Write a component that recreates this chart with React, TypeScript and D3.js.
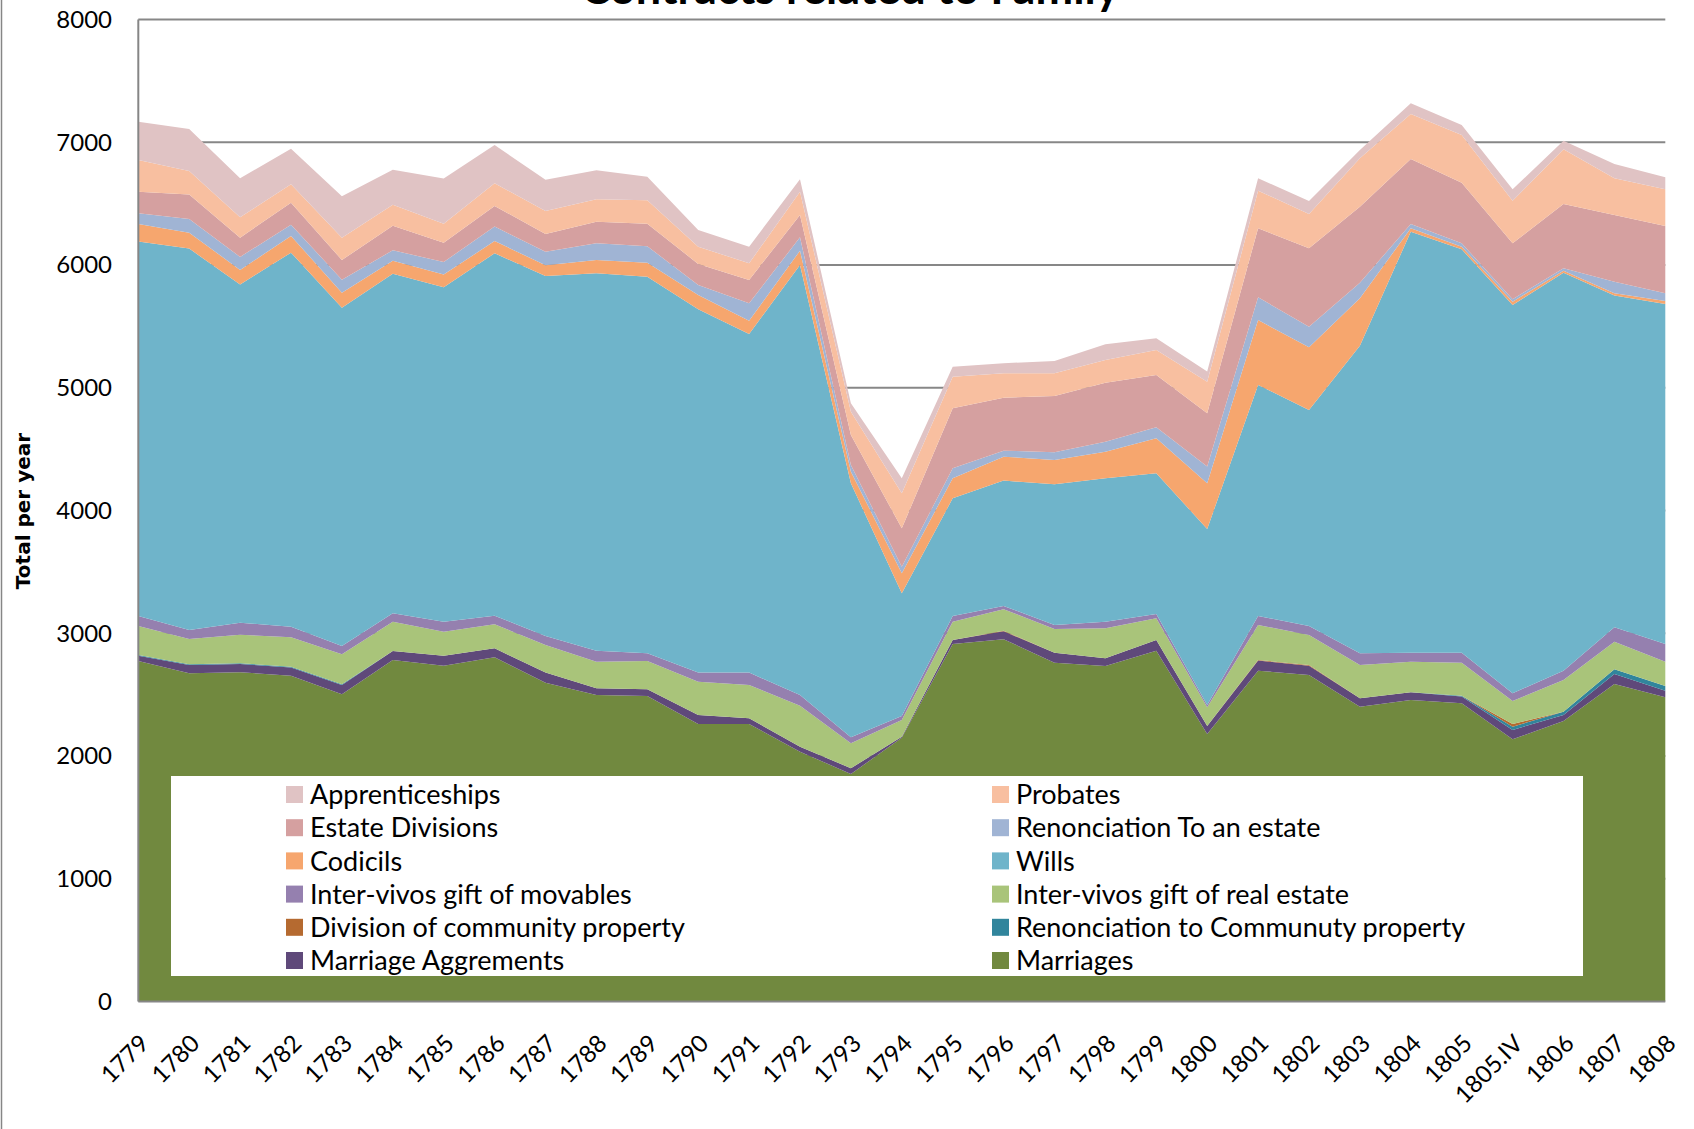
import * as d3 from "d3";

// categories (x axis)
const years = ["1779", "1780", "1781", "1782", "1783", "1784", "1785", "1786", "1787", "1788", "1789", "1790", "1791", "1792", "1793", "1794", "1795", "1796", "1797", "1798", "1799", "1800", "1801", "1802", "1803", "1804", "1805", "1805.IV", "1806", "1807", "1808"];

// series values, stacked bottom -> top
const marriages = [2774, 2673, 2682, 2654, 2502, 2782, 2735, 2804, 2597, 2497, 2489, 2261, 2261, 2035, 1853, 2149, 2912, 2951, 2760, 2733, 2858, 2179, 2695, 2660, 2401, 2456, 2429, 2136, 2285, 2586, 2478];
const marriageAgreements = [43, 68, 67, 67, 76, 73, 82, 73, 82, 54, 54, 73, 46, 41, 47, 8, 33, 64, 81, 63, 87, 65, 83, 75, 69, 63, 55, 76, 49, 82, 54];
const renonciationCommunity = [6, 6, 6, 6, 6, 0, 0, 0, 0, 0, 0, 0, 0, 0, 0, 0, 0, 0, 0, 0, 0, 0, 0, 0, 0, 0, 7, 27, 27, 38, 38];
const divisionCommunity = [0, 0, 0, 0, 0, 0, 0, 0, 0, 0, 0, 0, 0, 0, 0, 0, 0, 6, 0, 0, 0, 0, 4, 6, 0, 0, 0, 22, 0, 0, 0];
const giftRealEstate = [236, 206, 233, 240, 244, 239, 195, 195, 225, 217, 231, 271, 271, 334, 203, 136, 149, 174, 193, 244, 177, 153, 285, 245, 271, 249, 269, 187, 258, 225, 198];
const giftMovables = [81, 73, 98, 86, 68, 68, 82, 71, 73, 90, 62, 74, 101, 87, 49, 33, 46, 27, 33, 54, 35, 18, 73, 73, 95, 73, 81, 63, 76, 117, 144];
const wills = [3050, 3107, 2754, 3047, 2756, 2767, 2724, 2952, 2933, 3074, 3068, 2960, 2758, 3502, 2069, 999, 959, 1021, 1146, 1168, 1146, 1434, 1882, 1759, 2506, 3430, 3286, 3163, 3242, 2702, 2770];
const codicils = [144, 130, 119, 136, 122, 106, 103, 100, 87, 108, 114, 116, 109, 117, 95, 163, 163, 195, 198, 217, 285, 372, 529, 511, 386, 28, 22, 26, 16, 19, 24];
const renonciationEstate = [87, 111, 106, 92, 106, 84, 103, 117, 111, 136, 134, 82, 142, 109, 54, 54, 81, 49, 63, 81, 89, 136, 185, 168, 127, 35, 27, 20, 20, 94, 63];
const estateDivisions = [176, 199, 157, 179, 160, 201, 157, 168, 144, 176, 184, 171, 189, 182, 245, 312, 489, 432, 458, 481, 427, 435, 563, 639, 619, 529, 494, 456, 523, 544, 548];
const probates = [258, 192, 166, 150, 182, 171, 155, 185, 187, 183, 191, 141, 136, 190, 190, 286, 258, 198, 185, 185, 203, 257, 306, 279, 395, 367, 388, 347, 446, 299, 299];
const apprenticeships = [312, 343, 318, 290, 337, 285, 367, 312, 255, 236, 192, 136, 136, 101, 68, 122, 81, 82, 101, 128, 96, 82, 101, 106, 67, 87, 82, 93, 70, 116, 98];

const seriesNames = [
    "Marriages",
    "Marriage Aggrements",
    "Renonciation to Communuty property",
    "Division of community property",
    "Inter-vivos gift of real estate",
    "Inter-vivos gift of movables",
    "Wills",
    "Codicils",
    "Renonciation To an estate",
    "Estate Divisions",
    "Probates",
    "Apprenticeships",
];
const seriesValues = [marriages, marriageAgreements, renonciationCommunity, divisionCommunity, giftRealEstate, giftMovables, wills, codicils, renonciationEstate, estateDivisions, probates, apprenticeships];
const seriesColors = ["#71893f", "#5f497a", "#31859c", "#b56a30", "#a9c47a", "#9580af", "#6fb4ca", "#f6a66e", "#a0b4d4", "#d5a0a0", "#f8bfa0", "#e0c3c4"];

const yTicks = [0, 1000, 2000, 3000, 4000, 5000, 6000, 7000, 8000];

const title = "Contracts related to Family";
const yTitle = "Total per year";

export default function App() {
    const width = 1694;
    const height = 1129;
    const margin = { top: 19.4, right: 28.7, bottom: 127.5, left: 138.3 };
    const font = "Lato, 'Open Sans', sans-serif";

    const rows = years.map((year, i) => {
        const row: any = { year };
        seriesNames.forEach((name, k) => { row[name] = seriesValues[k][i]; });
        return row;
    });

    const stacked = d3.stack().keys(seriesNames)(rows);

    const x = d3.scalePoint()
        .domain(years)
        .range([margin.left, width - margin.right]);

    const y = d3.scaleLinear()
        .domain([0, 8000])
        .range([height - margin.bottom, margin.top]);

    const area = d3.area<any>()
        .x(d => x(d.data.year) as number)
        .y0(d => y(d[0]))
        .y1(d => y(d[1]));

    const color = d3.scaleOrdinal<string>().domain(seriesNames).range(seriesColors);

    // legend: reverse stack order, two columns, row-major
    const legendItems = seriesNames.slice().reverse();
    const legendBox = { x: 171, y: 776, w: 1412, h: 200 };
    const legendCols = [286, 992];
    const legendRow0 = 794.5;
    const legendRowStep = 33.2;

    return (
        <div style={{ position: "absolute", left: 0, top: 0 }}>
            <svg width={width} height={height} style={{ display: "block", background: "#fff" }}>
                {/* chart border, left edge */}
                <line x1={1.5} x2={1.5} y1={0} y2={height} stroke="#868686" strokeWidth={1.5} />

                {/* gridlines */}
                {yTicks.filter(t => t > 0).map(t => (
                    <line key={t} x1={margin.left} x2={width - margin.right} y1={y(t)} y2={y(t)}
                        stroke="#878787" strokeWidth={2} />
                ))}

                {/* stacked areas */}
                {stacked.map((s) => (
                    <path key={s.key} d={area(s as any) || ""} fill={color(s.key)} />
                ))}

                {/* axes */}
                <line x1={margin.left} x2={margin.left} y1={margin.top} y2={y(0)} stroke="#868686" strokeWidth={2} />
                <line x1={margin.left} x2={width - margin.right} y1={y(0)} y2={y(0)} stroke="#868686" strokeWidth={2} />

                {/* y tick labels */}
                {yTicks.map(t => (
                    <text key={t} x={112} y={y(t)} dy="0.35em" textAnchor="end"
                        fontFamily={font} fontSize={24} fill="#000">{t}</text>
                ))}

                {/* x tick labels */}
                {years.map(yr => (
                    <text key={yr} transform={`translate(${(x(yr) as number) + 12},1045) rotate(-45)`}
                        textAnchor="end" fontFamily={font} fontSize={24} fill="#000">{yr}</text>
                ))}

                {/* axis title */}
                <text transform="translate(30,511) rotate(-90)" textAnchor="middle"
                    fontFamily="'DejaVu Sans', Verdana, sans-serif" fontWeight="bold" fontSize={20} fill="#000">
                    {yTitle}
                </text>

                {/* chart title */}
                <text x={850} y={3.5} textAnchor="middle" fontFamily={font} fontWeight="bold" fontSize={45} fill="#000">
                    {title}
                </text>

                {/* legend */}
                <rect x={legendBox.x} y={legendBox.y} width={legendBox.w} height={legendBox.h} fill="#fff" />
                {legendItems.map((name, i) => {
                    const cx = legendCols[i % 2];
                    const cy = legendRow0 + Math.floor(i / 2) * legendRowStep;
                    return (
                        <g key={name}>
                            <rect x={cx} y={cy - 8.5} width={17} height={17} fill={color(name)} />
                            <text x={cx + 24} y={cy} dy="0.36em" fontFamily={font} fontSize={27} fill="#000">{name}</text>
                        </g>
                    );
                })}
            </svg>
        </div>
    );
}
